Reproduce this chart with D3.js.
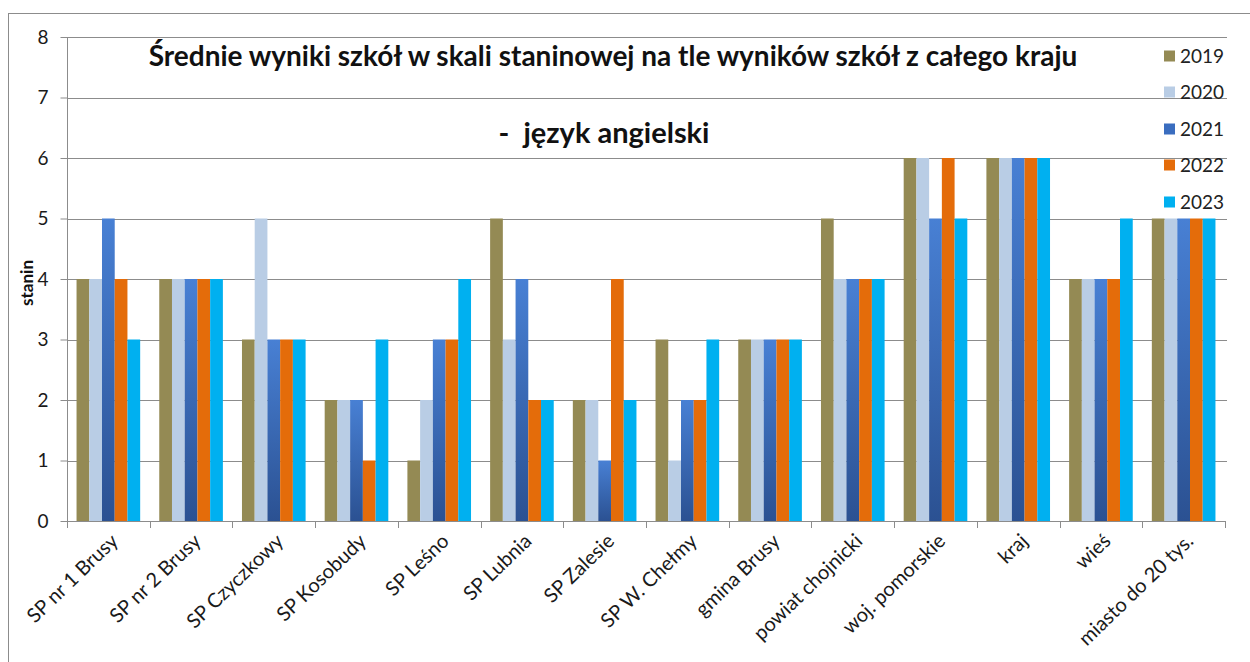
<!DOCTYPE html>
<html><head><meta charset="utf-8">
<script src="https://cdn.jsdelivr.net/npm/d3@7"></script>
<style>body{margin:0;background:#fff}svg{display:block}text{font-family:Lato,"Open Sans",sans-serif}</style>
</head><body><svg id="c" width="1250" height="662"></svg>
<script>
const categories = ["SP nr 1 Brusy","SP nr 2 Brusy","SP Czyczkowy","SP Kosobudy","SP Leśno","SP Lubnia","SP Zalesie","SP W. Chełmy","gmina Brusy","powiat chojnicki","woj. pomorskie","kraj","wieś","miasto do 20 tys."];
const seriesNames = ["2019","2020","2021","2022","2023"];
const v2019 = [4,4,3,2,1,5,2,3,3,5,6,6,4,5];
const v2020 = [4,4,5,2,2,3,2,1,3,4,6,6,4,5];
const v2021 = [5,4,3,2,3,4,1,2,3,4,5,6,4,5];
const v2022 = [4,4,3,1,3,2,4,2,3,4,6,6,4,5];
const v2023 = [3,4,3,3,4,2,2,3,3,4,5,6,5,5];
const yTicks = [0,1,2,3,4,5,6,7,8];
const seriesValues = [v2019,v2020,v2021,v2022,v2023];
const colors = ["#948a54","#b9cde5","#3a6dbf","#e46c0a","#00b0f0"];

const svg = d3.select("#c");
const defs = svg.append("defs");
const g21 = defs.append("linearGradient").attr("id","g21").attr("x1",0).attr("y1",0).attr("x2",0).attr("y2",1);
g21.append("stop").attr("offset","0%").attr("stop-color","#4880d4");
g21.append("stop").attr("offset","100%").attr("stop-color","#2b5192");

// outer border
svg.append("rect").attr("x",8.5).attr("y",13.5).attr("width",1260).attr("height",700)
  .attr("fill","none").attr("stroke","#8c8c8c").attr("stroke-width",1);

const L=67, R=1225, T=37, B=521;
const x0 = d3.scaleBand().domain(categories).range([L,R]).paddingInner(0).paddingOuter(0);
const x1 = d3.scaleBand().domain(seriesNames).range([0,x0.bandwidth()]).paddingInner(0).paddingOuter(0.75);
const y = d3.scaleLinear().domain([0,8]).range([B,T]);

// gridlines
svg.append("g").selectAll("line").data(yTicks.filter(d=>d>0)).join("line")
  .attr("x1",L).attr("x2",1227).attr("y1",d=>Math.round(y(d))+0.5).attr("y2",d=>Math.round(y(d))+0.5)
  .attr("stroke","#8c8c8c").attr("stroke-width",1);

// bars
const data = [];
categories.forEach((c,i)=>seriesNames.forEach((s,j)=>data.push({c,s,v:seriesValues[j][i],j})));
svg.append("g").selectAll("rect").data(data).join("rect")
  .attr("x",d=>x0(d.c)+x1(d.s)).attr("width",x1.bandwidth())
  .attr("y",d=>y(d.v)).attr("height",d=>y(0)-y(d.v))
  .attr("fill",d=>d.j===2?"url(#g21)":colors[d.j]);

// y axis
const ya = svg.append("g").attr("transform",`translate(${L+0.5},0)`)
  .call(d3.axisLeft(y).tickValues(yTicks).tickSize(7).tickPadding(12).tickFormat(d3.format("d")));
ya.select(".domain").attr("stroke","#8c8c8c").attr("d",`M0,${T}V${B}`);
ya.selectAll(".tick line").attr("stroke","#8c8c8c");
ya.selectAll("text").attr("font-size",19).attr("fill","#1a1a1a").style("font-family","Lato,sans-serif");

// x axis
const xa = svg.append("g").attr("transform",`translate(0,${B+0.5})`)
  .call(d3.axisBottom(x0).tickSize(0).tickSizeOuter(0));
xa.select(".domain").attr("stroke","#8c8c8c").attr("d",`M${L},0H${R}`);
xa.selectAll(".tick text").attr("font-size",20).attr("fill","#1a1a1a").style("font-family","Lato,sans-serif")
  .attr("text-anchor","end").attr("dy",null).attr("y",0)
  .attr("transform","translate(11,21) rotate(-44)");
svg.append("g").selectAll("line").data(d3.range(categories.length+1)).join("line")
  .attr("x1",i=>Math.round(L+i*x0.step())+0.5).attr("x2",i=>Math.round(L+i*x0.step())+0.5)
  .attr("y1",B).attr("y2",B+7).attr("stroke","#8c8c8c");

// y label
svg.append("text").attr("transform","translate(33,283) rotate(-90)").attr("text-anchor","middle")
  .attr("font-size",17).attr("font-weight","bold").attr("fill","#111").text("stanin");

// title
svg.append("text").attr("x",613).attr("y",66).attr("text-anchor","middle").attr("font-size",28)
  .attr("font-weight","bold").attr("fill","#111").text("Średnie wyniki szkół w skali staninowej na tle wyników szkół z całego kraju");
svg.append("text").attr("x",604).attr("y",143).attr("text-anchor","middle").attr("font-size",29)
  .attr("font-weight","bold").attr("fill","#111").attr("xml:space","preserve").text("-  język angielski");

// legend
const legY = [56,92,129,165,202];
const lg = svg.append("g").selectAll("g").data(seriesNames).join("g")
  .attr("transform",(d,i)=>`translate(1164,${legY[i]})`);
lg.append("rect").attr("x",0).attr("y",-5.5).attr("width",11).attr("height",11).attr("fill",(d,i)=>colors[i]);
lg.append("text").attr("x",16).attr("y",0).attr("dy","0.36em").attr("font-size",19).attr("fill","#222").text(d=>d);
</script></body></html>
